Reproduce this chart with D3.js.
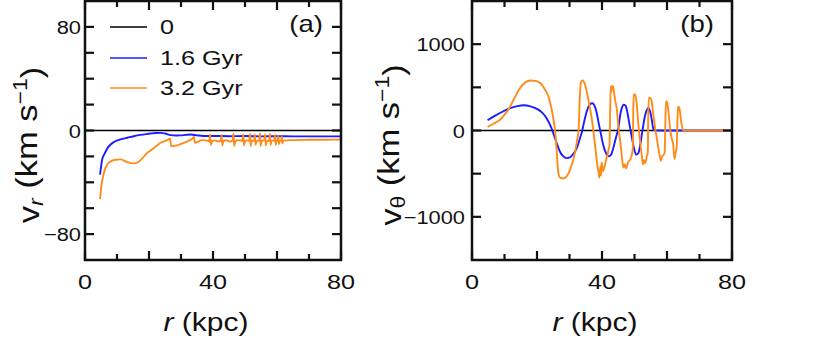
<!DOCTYPE html>
<html>
<head>
<meta charset="utf-8">
<script src="https://cdn.jsdelivr.net/npm/d3@7"></script>
<style>
  body { margin: 0; background: #fff; }
  text { font-family: "Liberation Sans", Arial, Helvetica, sans-serif; fill: #111; }
</style>
</head>
<body>
<svg id="chart" width="830" height="344"></svg>
<script>
// Legend / series names
const seriesNames = ["0", "1.6 Gyr", "3.2 Gyr"];
const seriesColors = ["#000000", "#1c1cff", "#ff8c1a"];

// Tick labels
const xTickLabels = [0, 40, 80];
const yTickLabelsA = [-80, 0, 80];
const yTickLabelsB = [-1000, 0, 1000];

// Panel (a): v_r vs r
const zeroR = [0, 80];
const zeroV = [0, 0];

const blueA_r = [4.7, 5.0, 5.4, 6.0, 6.5, 7.2, 8.0, 9.0, 10.1, 11.5, 13.2, 15.0, 16.3, 18.5, 20.5, 22.0, 23.6, 25.0, 26.8, 28.5,
  29.9, 31.5, 33.0, 35.1, 37.0, 40, 45, 50, 55, 60, 65, 70, 75, 80];
const blueA_v = [-34, -28, -22, -18.5, -16, -13, -10.8, -9, -7.7, -6.6, -5.6, -4.6, -3.8, -3.0, -2.3, -1.9, -1.8, -2.3, -3.6, -3.9,
  -3.8, -3.4, -3.1, -3.8, -4.2, -4.2, -4.4, -4.3, -4.5, -4.4, -4.5, -4.5, -4.5, -4.5];

const orangeA_r = [4.7, 5.1, 5.9, 7.0, 8.0, 9.1, 11.1, 13.2, 15.3, 16.5, 17.4, 19.5, 21.6, 23.6, 25.7, 26.6, 26.9, 28.8, 30.9, 33.5,
  34.1, 34.3, 36.7, 38.5,
  38.8, 39.1, 39.3, 39.8, 40.5, 41.5,
  42.4, 42.7, 42.9, 43.3, 44.2, 45.3,
  46.1, 46.4, 46.6, 47.0, 48.0,
  49.2, 49.5, 49.7, 50.0, 50.8,
  51.3, 51.6, 51.8, 52.1,
  52.8, 53.1, 53.3, 53.6,
  54.4, 54.7, 54.9, 55.2,
  56.0, 56.3, 56.5, 56.8,
  57.5, 57.8, 58.0, 58.3,
  59.1, 59.4, 59.6, 59.9,
  60.2, 60.4, 60.6, 60.9,
  61.3, 61.5, 61.7, 62.0,
  64, 70, 75, 80];
const orangeA_v = [-53, -43, -32.6, -26, -24, -22.8, -22.3, -24.4, -25.4, -24.5, -22.8, -17.2, -13.3, -9.5, -7.4, -6.4, -12, -11.5, -9.5, -6.4,
  -4.9, -9.5, -7.4, -8,
  -8.5, -3, -11, -8.2, -7.6, -8.4,
  -7.8, -3.5, -11.5, -8, -7.5, -8.6,
  -7.8, -2.5, -12, -8.3, -7.4,
  -8, -3, -11.5, -8.2, -7.6,
  -8, -2.5, -12, -8,
  -7.8, -3, -11, -8.4,
  -7.7, -2, -12, -8,
  -7.5, -3, -11.5, -8.3,
  -7.9, -2.5, -11, -8,
  -7.7, -3.5, -11, -8,
  -7.8, -4, -10.5, -8.2,
  -7.9, -4.5, -10, -7.8,
  -7.4, -7.2, -7.1, -7.0];

// Panel (b): v_theta vs r
const blueB_r = [4.8, 7, 9.7, 12, 14, 15.9, 18, 20, 21.5, 23, 24.2, 25.1, 26.1, 27, 28.1, 29.2, 30.2, 31.2, 32.3, 33.3,
  33.8, 34.5, 35.3, 36.3, 37.0, 37.6, 38.4, 38.9, 39.6, 40.4, 41.2, 42.0, 42.8, 43.5, 44.3, 45.0, 45.6, 46.2, 46.6, 47.2,
  47.6, 48.1, 48.6, 49.2, 49.8, 50.5, 51.2, 51.7, 52.2, 52.7, 53.2, 53.8, 54.3, 54.8, 55.3, 55.8, 56.3, 60, 70, 80];
const blueB_v = [119, 170, 223, 262, 283, 292, 280, 250, 210, 140, 50, -40, -150, -240, -300, -320, -310, -270, -200, -80,
  -20, 100, 220, 305, 315, 295, 200, 100, -30, -170, -260, -300, -280, -200, -80, 20, 180, 270, 300, 290,
  250, 150, 40, -80, -200, -280, -260, -180, -60, 60, 165, 240, 262, 220, 127, 20, 0, 0, 0, 0];

const orangeB_r = [4.8, 6.5, 8.7, 10, 11.2, 13, 14.8, 16.5, 17.9, 19.5, 21, 22.5, 23.5, 24.3, 25.1, 25.6, 25.9, 26.3, 26.6, 27.1,
  28.0, 28.7, 29.5, 30.2, 31.0, 31.7, 32.3, 32.8, 33.1, 33.5, 34.0, 34.8, 35.8, 36.9, 37.9, 38.6, 39.0, 39.2, 39.5, 39.7,
  39.9, 40.3, 40.9, 41.3, 41.7, 42.0, 42.3, 42.5, 42.7, 42.9, 43.1, 43.5, 44.0, 44.5, 45.0, 45.6, 46.1, 46.3, 46.6, 47.0,
  47.4, 48.0, 48.6, 49.2, 49.5, 49.6, 49.8, 50.2, 50.7, 51.2, 51.7, 52.2, 52.6, 52.9, 53.3, 53.8, 54.1, 54.2, 54.4, 55.0,
  55.3, 55.8, 56.3, 57.0, 57.8, 58.1, 58.5, 59.0, 59.3, 59.5, 59.7, 60.0, 60.5, 60.9, 61.5, 61.9, 62.3, 62.7, 63.0, 63.2,
  63.4, 63.8, 64.2, 64.5, 65.0, 70, 80];
const orangeB_v = [43, 75, 127, 180, 242, 370, 492, 560, 580, 575, 550, 470, 396, 280, 120, -20, -150, -380, -500, -546,
  -555, -546, -510, -450, -360, -254, -120, 12, 323, 560, 580, 530, 357, 127, -181, -412, -500, -546, -420, -520,
  -369, -470, -400, -330, -280, -219, -180, 200, 511, 450, 520, 496, 360, 265, 60, -127, -300, -369, -430, -390,
  -440, -369, -340, -277, -200, 200, 415, 420, 300, 69, -120, -277, -392, -340, -380, -300, -250, 100, 380, 370,
  330, 180, 40, -120, -300, -350, -300, -280, -250, 100, 338, 330, 200, 35, -100, -161, -330, -250, -181, 100,
  280, 260, 150, 69, 0, 0, 0];

const zip = (rs, vs) => rs.map((r, i) => ({r: r, v: vs[i]}));

const svg = d3.select("#chart");
const TEXT_SX = 1.2;   // the source figure's lettering is a bit wide

function hText(g, x, y, anchor, size, build, sx) {
  const t = g.append("text")
    .attr("transform", "translate(" + x + "," + y + ") scale(" + (sx || TEXT_SX) + ",1)")
    .attr("text-anchor", anchor)
    .style("font-size", size + "px");
  build(t);
  return t;
}

function drawPanel(cfg) {
  const g = svg.append("g");
  const x = d3.scaleLinear().domain([0, 80]).range([cfg.left, cfg.right]);
  const y = d3.scaleLinear().domain(cfg.yDomain).range([cfg.bottom, cfg.top]);

  const clipId = "clip-" + cfg.id;
  svg.append("clipPath").attr("id", clipId)
    .append("rect")
    .attr("x", cfg.left).attr("y", cfg.top)
    .attr("width", cfg.right - cfg.left).attr("height", cfg.bottom - cfg.top);

  // data lines
  const line = d3.line()
    .x(d => x(d.r))
    .y(d => y(d.v))
    .curve(d3.curveMonotoneX);

  const lines = g.append("g").attr("clip-path", "url(#" + clipId + ")");
  cfg.series.forEach((s, i) => {
    lines.append("path")
      .attr("d", line(s))
      .attr("fill", "none")
      .attr("stroke", seriesColors[i])
      .attr("stroke-width", i === 0 ? 1.5 : 1.9)
      .attr("stroke-linejoin", "round");
  });

  // inward ticks on all four sides
  const ticks = g.append("g").attr("stroke", "#111").attr("stroke-width", 2.2);
  const xTicks = d3.range(0, 81, 10);
  xTicks.forEach(v => {
    const len = v % 20 === 0 ? 9 : 6;
    ticks.append("line").attr("x1", x(v)).attr("x2", x(v))
      .attr("y1", cfg.bottom).attr("y2", cfg.bottom - len);
    ticks.append("line").attr("x1", x(v)).attr("x2", x(v))
      .attr("y1", cfg.top).attr("y2", cfg.top + len);
  });
  cfg.yTicks.forEach(v => {
    ticks.append("line").attr("x1", cfg.left).attr("x2", cfg.left + 9)
      .attr("y1", y(v)).attr("y2", y(v));
    ticks.append("line").attr("x1", cfg.right).attr("x2", cfg.right - 9)
      .attr("y1", y(v)).attr("y2", y(v));
  });

  // frame
  g.append("rect")
    .attr("x", cfg.left).attr("y", cfg.top)
    .attr("width", cfg.right - cfg.left).attr("height", cfg.bottom - cfg.top)
    .attr("fill", "none").attr("stroke", "#111").attr("stroke-width", 2.5);

  // tick labels
  xTickLabels.forEach(v => {
    hText(g, x(v), 289, "middle", 21, t => t.text(d3.format("d")(v)));
  });
  cfg.yLabels.forEach(v => {
    hText(g, cfg.left - cfg.yLabelGap, y(v) + 7, "end", 19, t => t.text(d3.format("d")(v)), 1.15);
  });

  // x title
  hText(g, (cfg.left + cfg.right) / 2 - 7, 331, "middle", 25, t => {
    t.append("tspan").style("font-style", "italic").text("r");
    t.append("tspan").text(" (kpc)");
  });

  // y title (rotated)
  const yt = g.append("text")
    .attr("transform", "translate(" + cfg.yTitleX + ",145) rotate(-90) scale(1.15,1)")
    .attr("text-anchor", "middle")
    .style("font-size", "30px");
  yt.append("tspan").text("v");
  yt.append("tspan").attr("dy", "0.22em").style("font-size", "20px")
    .style("font-style", cfg.subItalic ? "italic" : "normal").text(cfg.sub);
  yt.append("tspan").attr("dy", "-0.22em").text(" (km s");
  yt.append("tspan").attr("dy", "-0.5em").style("font-size", "20px").text("\u22121");
  yt.append("tspan").attr("dy", "0.5em").text(")");

  // panel letter
  hText(g, cfg.right - 18, 32, "end", 23, t => t.text(cfg.letter));

  return {x: x, y: y, g: g};
}

drawPanel({
  id: "a", left: 85, right: 341, top: 1, bottom: 260,
  yDomain: [-100, 100], yTicks: d3.range(-80, 81, 20), yLabels: yTickLabelsA, yLabelGap: 4,
  yTitleX: 39, sub: "r", subItalic: true, letter: "(a)",
  series: [zip(zeroR, zeroV), zip(blueA_r, blueA_v), zip(orangeA_r, orangeA_v)]
});

drawPanel({
  id: "b", left: 472, right: 732, top: 1, bottom: 260,
  yDomain: [-1500, 1500], yTicks: d3.range(-1000, 1001, 500), yLabels: yTickLabelsB, yLabelGap: 7,
  yTitleX: 401, sub: "\u03b8", subItalic: false, letter: "(b)",
  series: [zip(zeroR, zeroV), zip(blueB_r, blueB_v), zip(orangeB_r, orangeB_v)]
});

// legend in panel (a)
const legendY = [27, 58, 88];
const legend = svg.append("g");
seriesNames.forEach((name, i) => {
  legend.append("line")
    .attr("x1", 110).attr("x2", 147)
    .attr("y1", legendY[i]).attr("y2", legendY[i])
    .attr("stroke", seriesColors[i]).attr("stroke-width", 1.6);
  hText(legend, 160, legendY[i] + 7, "start", 21, t => t.text(name));
});
</script>
</body>
</html>
